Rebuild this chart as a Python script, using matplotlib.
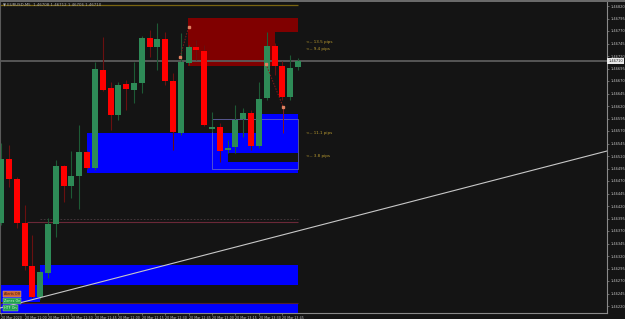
import numpy as np
import matplotlib
matplotlib.use("Agg")
import matplotlib.pyplot as plt
from matplotlib.patches import Rectangle

# candle OHLC, EURUSD M5
opens = [1.46386, 1.46514, 1.46474, 1.46386, 1.46300, 1.46238, 1.46286, 1.46384, 1.46500, 1.46460,
         1.46480, 1.46528, 1.46496, 1.46692, 1.46656, 1.46602, 1.46664, 1.46652, 1.46666, 1.46756,
         1.46738, 1.46754, 1.46670, 1.46566, 1.46706, 1.46738, 1.46730, 1.46574, 1.46578, 1.46532,
         1.46538, 1.46594, 1.46606, 1.46540, 1.46636, 1.46740, 1.46700, 1.46638, 1.46698]
highs = [1.46546, 1.46542, 1.46478, 1.46422, 1.46362, 1.46290, 1.46396, 1.46512, 1.46502, 1.46530,
         1.46582, 1.46530, 1.46708, 1.46758, 1.46668, 1.46668, 1.46672, 1.46708, 1.46760, 1.46772,
         1.46786, 1.46768, 1.46686, 1.46766, 1.46742, 1.46752, 1.46742, 1.46608, 1.46586, 1.46552,
         1.46622, 1.46616, 1.46612, 1.46668, 1.46768, 1.46746, 1.46710, 1.46722, 1.46716]
lows = [1.46382, 1.46458, 1.46376, 1.46292, 1.46236, 1.46234, 1.46276, 1.46358, 1.46428, 1.46436,
        1.46414, 1.46494, 1.46492, 1.46650, 1.46572, 1.46592, 1.46612, 1.46626, 1.46646, 1.46718,
        1.46692, 1.46662, 1.46532, 1.46562, 1.46702, 1.46712, 1.46580, 1.46568, 1.46508, 1.46526,
        1.46526, 1.46558, 1.46532, 1.46536, 1.46632, 1.46682, 1.46632, 1.46632, 1.46692]
closes = [1.46514, 1.46474, 1.46386, 1.46300, 1.46238, 1.46288, 1.46384, 1.46500, 1.46460, 1.46480,
          1.46528, 1.46496, 1.46694, 1.46652, 1.46602, 1.46662, 1.46654, 1.46666, 1.46756, 1.46738,
          1.46754, 1.46670, 1.46568, 1.46708, 1.46738, 1.46732, 1.46582, 1.46578, 1.46530, 1.46536,
          1.46592, 1.46606, 1.46540, 1.46634, 1.46740, 1.46700, 1.46638, 1.46696, 1.46710]

# supply / demand zones: (x start, x end, low, high) in bar index / price
supply_zones = [(23.9, 38.0, 1.46768, 1.46796), (23.9, 35.1, 1.46700, 1.46768)]
demand_zones = [(11.0, 38.0, 1.46486, 1.46566), (33.4, 38.0, 1.46566, 1.46604),
                (5.0, 38.0, 1.46262, 1.46302), (-0.2, 5.0, 1.46228, 1.46262),
                (-0.2, 38.0, 1.46200, 1.46226)]
gap_zones = [(29.0, 38.0, 1.46508, 1.46526)]

pip_labels = [("<-- 13.5 pips", 1.46748), ("<-- 9.4 pips", 1.46734),
              ("<-- 11.1 pips", 1.46566), ("<-- 3.8 pips", 1.46520)]

trend_x = [-0.15, 77.57]
trend_y = [1.46216, 1.46530]

price_ticks = [1.46820 - 0.00025 * k for k in range(25)]
time_pos = [0] + list(range(3, 37, 3))
time_labels = ["20 Mar 2020", "20 Mar 11:00", "20 Mar 11:15", "20 Mar 11:30", "20 Mar 11:45",
               "20 Mar 12:00", "20 Mar 12:15", "20 Mar 12:30", "20 Mar 12:45", "20 Mar 13:00",
               "20 Mar 13:15", "20 Mar 13:30", "20 Mar 13:45"]

bid = closes[-1]
bg = "#141414"

fig = plt.figure(figsize=(6.25, 3.19), dpi=100, facecolor=bg)
ax = fig.add_axes([0, 6 / 319, 607 / 625, 312 / 319], facecolor=bg)
ax.set_xlim(-0.154, 77.57)
ax.set_ylim(1.46206, 1.46830)

# zones
for x0, x1, lo, hi in supply_zones:
    ax.add_patch(Rectangle((x0, lo), x1 - x0, hi - lo, color="#800000", lw=0, zorder=1))
for x0, x1, lo, hi in demand_zones:
    ax.add_patch(Rectangle((x0, lo), x1 - x0, hi - lo, color="#0000ff", lw=0, zorder=1))
for x0, x1, lo, hi in gap_zones:
    ax.add_patch(Rectangle((x0, lo), x1 - x0, hi - lo, color=bg, lw=0, zorder=1.5))
ax.add_patch(Rectangle((27.0, 1.46494), 11.0, 0.00100, fill=False, ec="#7070c0", lw=0.5, zorder=1.6))
ax.hlines(1.46227, -0.2, 38.0, color="#502030", lw=0.8, zorder=1.6)

# lines
ax.hlines(1.46823, -0.2, 38.0, color="#7a6410", lw=0.9, zorder=1)
ax.hlines(1.46388, 3.3, 38.0, color="#6a2838", lw=0.8, zorder=1)
ax.hlines(1.46394, 5.0, 38.0, color="#4a3a40", lw=0.6, ls=(0, (2, 2)), zorder=1)
ax.axhline(bid, color="#5c5c5c", lw=1.3, zorder=2)

# candles
x = np.arange(len(opens))
o = np.array(opens)
c = np.array(closes)
up = c >= o
wick_col = np.where(up, "#1d5a35", "#6a1010")
ax.vlines(x, lows, highs, colors=wick_col, lw=0.8, zorder=3)
body_lo = np.minimum(o, c)
body_h = np.maximum(np.abs(c - o), 0.00004)
ax.bar(x, body_h, bottom=body_lo, width=0.77, color=np.where(up, "#2e8b57", "#ff0000"),
       lw=0, zorder=4)

# markers / dotted pattern lines
ax.plot([22.9, 24.0], [1.46718, 1.46778], color="#8a1a1a", lw=0.7, ls=(0, (1.5, 1.5)), zorder=5)
ax.plot([33.9, 36.1], [1.46704, 1.46618], color="#8a1a1a", lw=0.7, ls=(0, (1.5, 1.5)), zorder=5)
ax.plot([22.9, 24.0, 33.9, 36.1], [1.46718, 1.46778, 1.46704, 1.46618], "s",
        color="#e08060", ms=1.6, zorder=6)
ax.vlines(36.1, 1.46566, 1.46618, color="#8a1a1a", lw=0.7, zorder=5)

# trend line
ax.plot(trend_x, trend_y, color="#c8c8c8", lw=0.8, zorder=6)

for txt, y in pip_labels:
    ax.text(39.0, y, txt, color="#b89a30", fontsize=3.0, va="center", ha="left", zorder=7)

# axes styling
ax.spines["top"].set_visible(False)
ax.spines["left"].set_color("#5a5a5a")
ax.spines["right"].set_color("#8a8a8a")
ax.spines["bottom"].set_color("#8a8a8a")
ax.yaxis.tick_right()
ax.set_yticks(price_ticks)
ax.set_yticklabels(["%.5f" % p for p in price_ticks])
ax.tick_params(axis="y", colors="#8a8a8a", labelcolor="#c0c0c0", labelsize=2.6,
               length=1.5, width=0.5, pad=1)
ax.set_xticks(time_pos)
ax.set_xticklabels(time_labels, ha="left")
ax.tick_params(axis="x", colors="#8a8a8a", labelcolor="#c0c0c0", labelsize=2.3,
               length=1.5, width=0.5, pad=0.8)

# bid price box
ax.text(1.002, (bid - 1.46206) / (1.46830 - 1.46206), "%.5f" % bid, transform=ax.transAxes,
        fontsize=2.6, color="#202020", va="center", ha="left",
        bbox=dict(boxstyle="square,pad=0.2", fc="#e8e8e8", ec="none"))

# header and buttons
fig.text(0.005, 1 - 4 / 319, "\u25bc EURUSD,M5  1.46708 1.46712 1.46706 1.46710",
         color="#b0b0b0", fontsize=2.8, va="center", ha="left")
fig.patches.append(Rectangle((0, 1 - 1.5 / 319), 1, 1.5 / 319, transform=fig.transFigure,
                             color="#6a6a6a", lw=0))
buttons = [("Alerts Off", "#d06030", "#402010", 294), ("Zones On", "#20a050", "#d0ffd0", 301),
           ("HTF On", "#20a050", "#d0ffd0", 308)]
for txt, fc, tc, ypx in buttons:
    fig.text(4 / 625, 1 - ypx / 319, txt, color=tc, fontsize=2.4, va="center", ha="left",
             bbox=dict(boxstyle="square,pad=0.3", fc=fc, ec="#c0c0c0", lw=0.3))

fig.savefig("out.png", dpi=100, facecolor=bg)
